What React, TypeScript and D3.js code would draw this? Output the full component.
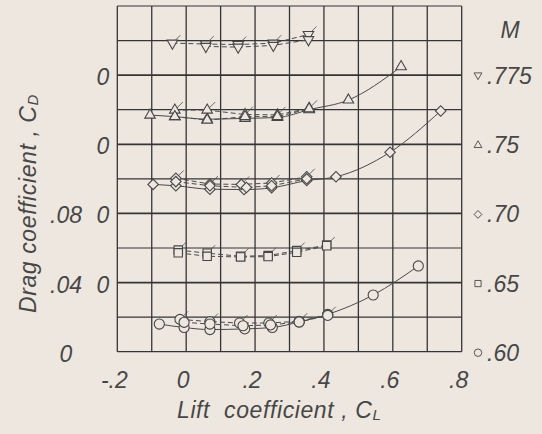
import React from 'react'
import * as d3 from 'd3'

// Mach numbers, bottom to top; each curve is shifted up by its own zero
const machLabels = ['.60', '.65', '.70', '.75', '.775']
const zeroOffsets = [0, 0.04, 0.08, 0.12, 0.16]

// [C_L, C_D], several runs per Mach number
const m60Solid = [[-0.078, 0.016], [-0.006, 0.014], [0.069, 0.0128], [0.17, 0.0132], [0.25, 0.014], [0.328, 0.0172], [0.411, 0.0216], [0.543, 0.0328], [0.674, 0.0496]]
const m60DashA = [[-0.018, 0.0187], [0.069, 0.0174], [0.155, 0.0166], [0.24, 0.0166], [0.328, 0.0176], [0.411, 0.0214]]
const m60DashB = [[-0.006, 0.017], [0.069, 0.016], [0.165, 0.015], [0.245, 0.0155], [0.328, 0.0172], [0.411, 0.021]]

const m65DashA = [[-0.023, 0.0188], [0.061, 0.017], [0.158, 0.0152], [0.238, 0.0156], [0.321, 0.0185], [0.408, 0.0217]]
const m65DashB = [[-0.023, 0.0172], [0.061, 0.0152], [0.158, 0.0148], [0.238, 0.015], [0.321, 0.0175], [0.408, 0.0213]]

const m70Solid = [[-0.096, 0.0168], [-0.03, 0.016], [0.069, 0.014], [0.168, 0.0138], [0.248, 0.0148], [0.35, 0.019], [0.435, 0.0212], [0.592, 0.0354], [0.739, 0.0593]]
const m70DashA = [[-0.03, 0.0203], [0.069, 0.017], [0.16, 0.0168], [0.248, 0.0176], [0.35, 0.0212]]
const m70DashB = [[-0.03, 0.0184], [0.069, 0.016], [0.175, 0.015], [0.248, 0.016], [0.35, 0.02]]

const m75Solid = [[-0.105, 0.0169], [-0.033, 0.016], [0.061, 0.0145], [0.171, 0.015], [0.265, 0.0155], [0.357, 0.02], [0.471, 0.0256], [0.624, 0.0449]]
const m75DashA = [[-0.033, 0.0198], [0.061, 0.0198], [0.171, 0.0172], [0.265, 0.017], [0.357, 0.0208]]
const m75DashB = [[-0.033, 0.016], [0.061, 0.014], [0.171, 0.016], [0.265, 0.016], [0.357, 0.0205]]

const m775DashA = [[-0.04, 0.0185], [0.057, 0.018], [0.151, 0.0177], [0.253, 0.0185], [0.355, 0.0235]]
const m775DashB = [[0.057, 0.0166], [0.151, 0.0162], [0.253, 0.0172], [0.355, 0.0205]]

const runs = [
  { m: 0, pts: m60Solid, dashed: false, flag: false },
  { m: 0, pts: m60DashA, dashed: true, flag: true },
  { m: 0, pts: m60DashB, dashed: true, flag: false },
  { m: 1, pts: m65DashA, dashed: true, flag: true },
  { m: 1, pts: m65DashB, dashed: true, flag: false },
  { m: 2, pts: m70Solid, dashed: false, flag: false },
  { m: 2, pts: m70DashA, dashed: true, flag: true },
  { m: 2, pts: m70DashB, dashed: true, flag: false },
  { m: 3, pts: m75Solid, dashed: false, flag: false },
  { m: 3, pts: m75DashA, dashed: true, flag: true },
  { m: 3, pts: m75DashB, dashed: true, flag: false },
  { m: 4, pts: m775DashA, dashed: true, flag: true },
  { m: 4, pts: m775DashB, dashed: true, flag: false }
]

const xTicks = [-0.2, 0, 0.2, 0.4, 0.6, 0.8]
const xTickLabels = ['-.2', '0', '.2', '.4', '.6', '.8']
const yTickLabels = ['0', '.04', '.08']

const bg = '#ede7e0'
const ink = '#474747'
const font = '"Liberation Sans", Arial, sans-serif'

const x = d3.scaleLinear().domain([-0.2, 0.8]).range([117.3, 461.7])
const y = d3.scaleLinear().domain([0, 0.2]).range([351.7, 6])

const symbolPath = (m: number, s: number) => {
  if (m === 0) return d3.symbol(d3.symbolCircle, 80 * s)()
  if (m === 1) return d3.symbol(d3.symbolSquare, 70 * s)()
  if (m === 2) return d3.symbol(d3.symbolSquare, 55 * s)()
  return d3.symbol(d3.symbolTriangle, 48 * s)()
}
const symbolRot = (m: number) => (m === 2 ? 45 : m === 4 ? 180 : 0)

const Marker = ({ m, cx, cy, s = 1, flag = false }: { m: number, cx: number, cy: number, s?: number, flag?: boolean }) => (
  <g transform={`translate(${cx},${cy})`}>
    {flag && <line x1={2} y1={-2} x2={8} y2={-8} stroke={ink} strokeWidth={0.8} />}
    <path d={symbolPath(m, s) || ''} transform={`rotate(${symbolRot(m)})`}
      fill={bg} stroke={ink} strokeWidth={s < 1 ? 0.9 : 1.1} />
  </g>
)

export default function App () {
  const solid = d3.line().curve(d3.curveMonotoneX)
  const straight = d3.line()
  const gridX = d3.range(0, 11).map(i => -0.2 + i * 0.1)
  const gridY = d3.range(0, 11).map(i => i * 0.02)

  return (
    <svg width={542} height={434} style={{ position: 'absolute', left: 0, top: 0, background: bg }}
      fontFamily={font} fontStyle='italic' fill={ink}>
      <rect width={542} height={434} fill={bg} />
      <g stroke='#353535'>
        {gridX.map((v, i) => (
          <line key={'gx' + i} x1={x(v)} x2={x(v)} y1={y(0)} y2={y(0.2)} strokeWidth={1.3} />
        ))}
        {gridY.map((v, i) => (
          <line key={'gy' + i} x1={x(-0.2)} x2={x(0.8)} y1={y(v)} y2={y(v)}
            strokeWidth={i % 2 === 0 && i > 0 && i < 10 ? 1.7 : 1.2} />
        ))}
      </g>

      {runs.map((r, i) => {
        const pts = r.pts.map(p => [x(p[0]), y(p[1] + zeroOffsets[r.m])] as [number, number])
        return (
          <path key={'ln' + i} d={(r.dashed ? straight(pts) : solid(pts)) || ''} fill='none'
            stroke='#4a4a4a' strokeWidth={1} strokeDasharray={r.dashed ? '5,3' : undefined} />
        )
      })}
      {runs.map((r, i) => r.pts.map((p, j) => (
        <Marker key={`mk${i}-${j}`} m={r.m} cx={x(p[0])} cy={y(p[1] + zeroOffsets[r.m])} flag={r.flag} />
      )))}

      <g fontSize={23} textAnchor='middle'>
        {yTickLabels.map((t, i) => (
          <text key={'yl' + i} x={66} y={y(zeroOffsets[i]) + 10}>{t}</text>
        ))}
        {zeroOffsets.slice(1).map((v, i) => (
          <text key={'yz' + i} x={103} y={y(v) + 10}>0</text>
        ))}
        {xTicks.map((v, i) => (
          <text key={'xl' + i} x={x(v) - 3} y={388}>{xTickLabels[i]}</text>
        ))}
      </g>

      <text x={177} y={418} fontSize={23} letterSpacing={0.6}>
        Lift<tspan dx={14}>coefficient , C</tspan><tspan fontSize={15} dy={2}>L</tspan>
      </text>
      <text transform='translate(36,313) rotate(-90)' fontSize={23} letterSpacing={0.6}>
        Drag coefficient , C<tspan fontSize={15} dy={2}>D</tspan>
      </text>

      <text x={510} y={38} fontSize={23} textAnchor='middle'>M</text>
      {machLabels.map((t, i) => (
        <g key={'lg' + i}>
          <Marker m={i} cx={478} cy={y(zeroOffsets[i]) + (i === 4 ? 0 : 1)} s={0.55} />
          <text x={487} y={y(zeroOffsets[i]) + 9} fontSize={23}>{t}</text>
        </g>
      ))}
    </svg>
  )
}
